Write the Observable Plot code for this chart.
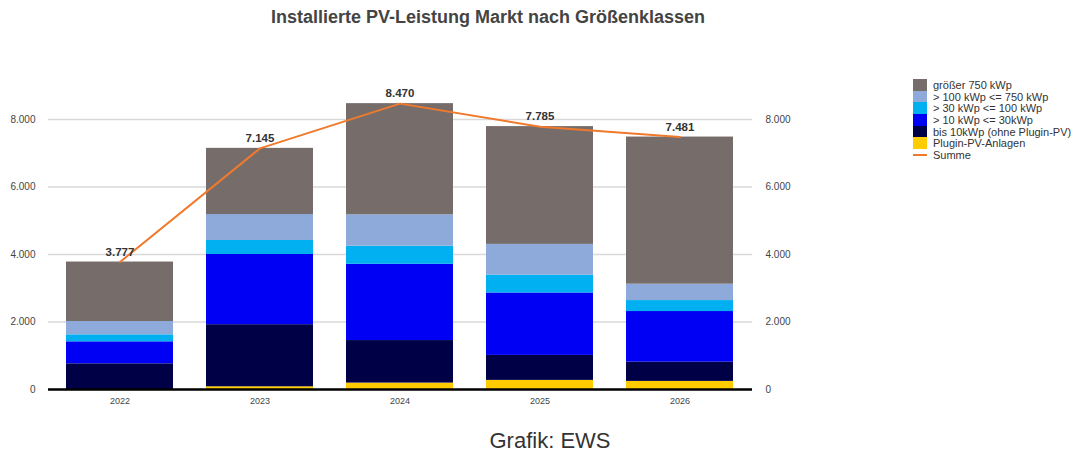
<!DOCTYPE html>
<html>
<head>
<meta charset="utf-8">
<script src="https://cdn.jsdelivr.net/npm/d3@7"></script>
<script src="https://cdn.jsdelivr.net/npm/@observablehq/plot@0.6"></script>
<style>
  html, body { margin: 0; padding: 0; background: #fff; }
  body { font-family: "Liberation Sans", Arial, sans-serif; }
  #wrap { position: relative; width: 1083px; height: 468px; overflow: hidden; }
  #title { position: absolute; left: 0; width: 976px; top: 6px; text-align: center; font-weight: bold; font-size: 18px; line-height: 22px; color: #444; }
  #chart { position: absolute; left: 0; top: 36px; }
  #legend { position: absolute; left: 913px; top: 79px; font-size: 11px; color: #333; }
  .row { display: flex; align-items: center; height: 11.7px; white-space: nowrap; }
  .sw { width: 14px; height: 11.7px; margin-right: 6px; }
  .ln { width: 14px; height: 2px; margin-right: 6px; }
  #caption { position: absolute; left: 400px; width: 300px; top: 428px; text-align: center; font-size: 22px; line-height: 26px; color: #333; }
</style>
</head>
<body>
<div id="wrap">
  <div id="title">Installierte PV-Leistung Markt nach Größenklassen</div>
  <div id="chart"></div>
  <div id="legend"></div>
  <div id="caption">Grafik: EWS</div>
</div>
<script>
const years = ["2022", "2023", "2024", "2025", "2026"];
const seriesNames = [
  "Plugin-PV-Anlagen",
  "bis 10kWp (ohne Plugin-PV)",
  "> 10 kWp <= 30kWp",
  "> 30 kWp <= 100 kWp",
  "> 100 kWp <= 750 kWp",
  "größer 750 kWp"
];
const seriesColors = ["#ffcc00", "#000046", "#0000f5", "#00b0f0", "#8eaadb", "#766d6b"];
const plugin   = [0, 80, 190, 270, 240];
const bis10    = [761, 1840, 1260, 740, 570];
const kw10_30  = [652, 2080, 2260, 1850, 1500];
const kw30_100 = [207, 415, 535, 530, 325];
const kw100_750= [395, 770, 930, 910, 485];
const gt750    = [1762, 1960, 3295, 3490, 4360];
const summe    = [3777, 7145, 8470, 7785, 7481];
const yTicks   = [0, 2000, 4000, 6000, 8000];
const legendOrder = [5, 4, 3, 2, 1, 0];

const seriesValues = [plugin, bis10, kw10_30, kw30_100, kw100_750, gt750];
const stacked = [];
seriesNames.forEach((s, i) => years.forEach((y, j) => stacked.push({year: y, series: s, value: seriesValues[i][j]})));
const sums = years.map((y, j) => ({year: y, value: summe[j]}));

const de = v => d3.format(",")(v).replace(/,/g, ".");

const chart = Plot.plot({
  width: 1083,
  height: 390,
  marginLeft: 48,
  marginRight: 331,
  marginTop: 83,
  marginBottom: 37,
  style: {fontFamily: "Liberation Sans, Arial, sans-serif", background: "transparent"},
  x: {domain: years, paddingInner: 0.233, paddingOuter: 0.115, label: null},
  y: {domain: [0, 8000], label: null},
  color: {domain: seriesNames, range: seriesColors},
  marks: [
    Plot.gridY(yTicks, {stroke: "#d9d9d9", strokeOpacity: 1, strokeWidth: 1.5}),
    Plot.barY(stacked, {x: "year", y: "value", fill: "series", order: seriesNames}),
    Plot.ruleY([0], {stroke: "#000", strokeWidth: 2.5}),
    Plot.axisY(yTicks, {anchor: "left", tickSize: 0, tickPadding: 13, tickFormat: de, fontSize: 10, fill: "#444", label: null}),
    Plot.axisY(yTicks, {anchor: "right", tickSize: 0, tickPadding: 13, tickFormat: de, fontSize: 10, fill: "#444", label: null}),
    Plot.axisX({tickSize: 0, tickPadding: 8, fontSize: 9, fill: "#444", label: null}),
    Plot.line(sums, {x: "year", y: "value", stroke: "#f07a2c", strokeWidth: 2}),
    Plot.text(sums, {x: "year", y: "value", text: d => de(d.value), dy: -10, fontWeight: "bold", fontSize: 11.5, fill: "#333"})
  ]
});
document.getElementById("chart").appendChild(chart);

const legend = document.getElementById("legend");
legendOrder.forEach(i => {
  const r = document.createElement("div");
  r.className = "row";
  r.innerHTML = `<div class="sw" style="background:${seriesColors[i]}"></div><span>${seriesNames[i].replace(/</g,"&lt;").replace(/>/g,"&gt;")}</span>`;
  legend.appendChild(r);
});
const r = document.createElement("div");
r.className = "row";
r.innerHTML = `<div class="ln" style="background:#f07a2c"></div><span>Summe</span>`;
legend.appendChild(r);
</script>
</body>
</html>
